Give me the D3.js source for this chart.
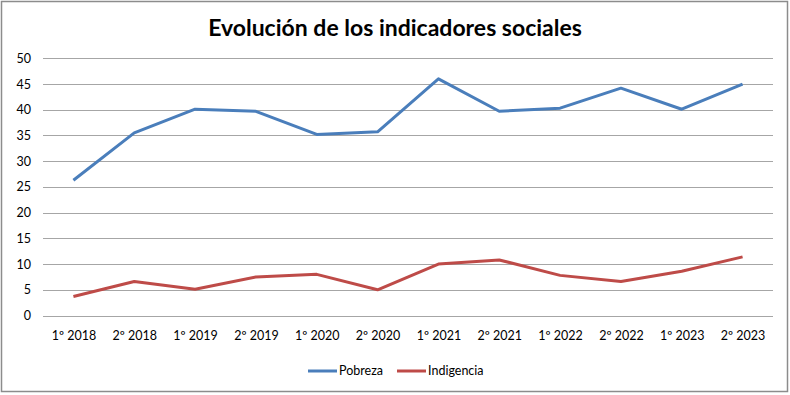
<!DOCTYPE html>
<html>
<head>
<meta charset="utf-8">
<script src="https://cdn.jsdelivr.net/npm/d3@7"></script>
<style>
body{margin:0;background:#fff}
text{font-family:Lato,"Open Sans",sans-serif;fill:#000}
</style>
</head>
<body>
<svg id="chart" width="790" height="395"></svg>
<script>
const categories = ['1º 2018','2º 2018','1º 2019','2º 2019','1º 2020','2º 2020','1º 2021','2º 2021','1º 2022','2º 2022','1º 2023','2º 2023']
const pobreza = [26.3,35.5,40.1,39.7,35.2,35.7,46.0,39.7,40.3,44.2,40.1,45.0]
const indigencia = [3.7,6.6,5.1,7.5,8.0,5.0,10.0,10.8,7.8,6.6,8.6,11.4]
const yTicks = [0,5,10,15,20,25,30,35,40,45,50]
const series = [
  {name:'Pobreza',values:pobreza,color:'#4a7ebb'},
  {name:'Indigencia',values:indigencia,color:'#be4b48'}
]

const svg = d3.select('#chart')
const m = {left:43,right:773,top:58.3,bottom:315.5}

svg.append('rect').attr('x',1.5).attr('y',1.5).attr('width',786).attr('height',390)
  .attr('fill','#fff').attr('stroke','#8c8c8c').attr('stroke-width',1.5)

svg.append('text').attr('x',395).attr('y',36).attr('text-anchor','middle')
  .style('font-size','23px').style('font-weight','bold').text('Evolución de los indicadores sociales')

const x = d3.scalePoint().domain(categories).range([m.left,m.right]).padding(0.5)
const y = d3.scaleLinear().domain([0,50]).range([m.bottom,m.top])

// grid
svg.append('g').selectAll('line').data(yTicks).join('line')
  .attr('x1',m.left).attr('x2',m.right)
  .attr('y1',d=>Math.round(y(d))+0.5).attr('y2',d=>Math.round(y(d))+0.5)
  .attr('stroke','#a6a6a6').attr('stroke-width',1)

const yAxis = svg.append('g').attr('transform',`translate(${m.left},0)`)
  .call(d3.axisLeft(y).tickValues(yTicks).tickSize(0).tickPadding(12))
yAxis.select('.domain').remove()
yAxis.selectAll('text').style('font-size','12.5px').style('font-family','Lato,sans-serif')

const xAxis = svg.append('g').attr('transform',`translate(0,${m.bottom})`)
  .call(d3.axisBottom(x).tickSize(0).tickPadding(16))
xAxis.select('.domain').remove()
xAxis.selectAll('text').style('font-size','12.5px').style('font-family','Lato,sans-serif')

const line = d3.line().x((d,i)=>x(categories[i])).y(d=>y(d))
svg.append('g').selectAll('path').data(series).join('path')
  .attr('d',d=>line(d.values)).attr('fill','none')
  .attr('stroke',d=>d.color).attr('stroke-width',3).attr('stroke-linejoin','round')

// legend
const legX = [308,397]
const leg = svg.append('g').selectAll('g').data(series).join('g')
  .attr('transform',(d,i)=>`translate(${legX[i]},371)`)
leg.append('line').attr('x1',0).attr('x2',29).attr('stroke',d=>d.color).attr('stroke-width',3)
leg.append('text').attr('x',31).attr('dy','0.35em').style('font-size','12.5px').text(d=>d.name)
</script>
</body>
</html>
